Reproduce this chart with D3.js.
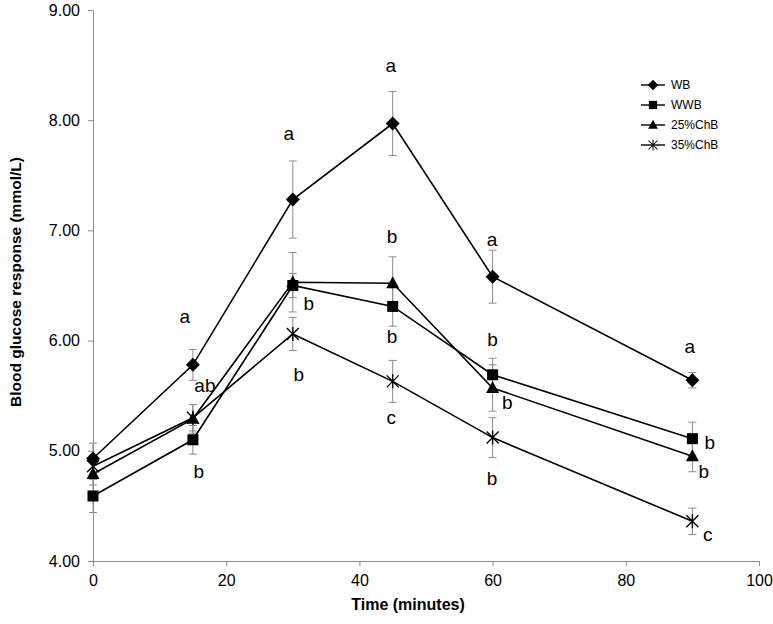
<!DOCTYPE html>
<html>
<head>
<meta charset="utf-8">
<script src="https://cdn.jsdelivr.net/npm/d3@7"></script>
<style>
  html, body { margin: 0; padding: 0; background: #fff; }
  svg { display: block; font-family: "Liberation Sans", Arial, sans-serif; }
</style>
</head>
<body>
<svg id="chart" width="773" height="624"></svg>
<script>
// ---- data ----
const times = [0, 15, 30, 45, 60, 90];
const seriesNames = ["WB", "WWB", "25%ChB", "35%ChB"];
const markerTypes = ["diamond", "square", "triangle", "star"];
const wbValues   = [4.93, 5.78, 7.28, 7.97, 6.58, 5.64];
const wbErr      = [0.14, 0.14, 0.35, 0.29, 0.24, 0.07];
const wwbValues  = [4.59, 5.10, 6.50, 6.31, 5.69, 5.11];
const wwbErr     = [0.15, 0.13, 0.11, 0.18, 0.15, 0.15];
const chb25Values = [4.79, 5.29, 6.53, 6.52, 5.57, 4.95];
const chb25Err    = [0.10, 0.13, 0.27, 0.24, 0.21, 0.14];
const chb35Values = [4.86, 5.30, 6.06, 5.63, 5.12, 4.36];
const chb35Err    = [0.10, 0.12, 0.15, 0.19, 0.18, 0.12];
const xTicks = [0, 20, 40, 60, 80, 100];
const yTicks = [4, 5, 6, 7, 8, 9];
// significance letters: time, value position, letter
const letterTimes  = [13.8, 16.8, 15.9, 29.4, 32.4, 30.9, 44.7, 44.9, 44.9, 44.8, 59.9, 60.0, 62.2, 59.9, 89.6, 92.6, 91.7, 92.3];
const letterValues = [6.22, 5.59, 4.81, 7.88, 6.34, 5.69, 8.50, 6.95, 6.04, 5.30, 6.92, 6.01, 5.44, 4.75, 5.95, 5.08, 4.81, 4.24];
const letterTexts  = ["a", "ab", "b", "a", "b", "b", "a", "b", "b", "c", "a", "b", "b", "b", "a", "b", "b", "c"];

const series = [
  { name: seriesNames[0], marker: markerTypes[0], values: wbValues, err: wbErr },
  { name: seriesNames[1], marker: markerTypes[1], values: wwbValues, err: wwbErr },
  { name: seriesNames[2], marker: markerTypes[2], values: chb25Values, err: chb25Err },
  { name: seriesNames[3], marker: markerTypes[3], values: chb35Values, err: chb35Err }
];

// ---- layout ----
const svg = d3.select("#chart");
const mLeft = 93, mRight = 759, mTop = 10, mBottom = 561;
const x = d3.scaleLinear().domain([0, 100]).range([mLeft, mRight]);
const y = d3.scaleLinear().domain([4, 9]).range([mBottom, mTop]);
const axisColor = "#8c8c8c";

// axes
const xAxis = svg.append("g").attr("transform", `translate(0,${mBottom})`)
  .call(d3.axisBottom(x).tickValues(xTicks).tickSize(5).tickPadding(6).tickFormat(d3.format("d")));
const yAxis = svg.append("g").attr("transform", `translate(${mLeft},0)`)
  .call(d3.axisLeft(y).tickValues(yTicks).tickSize(5).tickPadding(8).tickFormat(d3.format(".2f")));
[xAxis, yAxis].forEach(g => {
  g.selectAll("path.domain").attr("stroke", axisColor).attr("stroke-width", 1);
  g.selectAll(".tick line").attr("stroke", axisColor);
  g.selectAll(".tick text").attr("fill", "#000").style("font-size", "16px")
    .style("font-family", "'Liberation Sans', Arial, sans-serif");
});
xAxis.selectAll(".tick text").attr("dy", "0.9em");

// axis titles
svg.append("text").attr("x", 408).attr("y", 610)
  .attr("text-anchor", "middle").style("font-size", "16px").style("font-weight", "bold")
  .text("Time (minutes)");
svg.append("text").attr("transform", `translate(21,282) rotate(-90)`)
  .attr("text-anchor", "middle").style("font-size", "15.5px").style("font-weight", "bold")
  .text("Blood glucose response (mmol/L)");

// error bars
series.forEach(s => {
  const g = svg.append("g").attr("stroke", axisColor).attr("stroke-width", 1);
  times.forEach((t, i) => {
    const cx = x(t), y1 = y(s.values[i] + s.err[i]), y2 = y(s.values[i] - s.err[i]);
    g.append("line").attr("x1", cx).attr("x2", cx).attr("y1", y1).attr("y2", y2);
    g.append("line").attr("x1", cx - 4).attr("x2", cx + 4).attr("y1", y1).attr("y2", y1);
    g.append("line").attr("x1", cx - 4).attr("x2", cx + 4).attr("y1", y2).attr("y2", y2);
  });
});

// lines
const line = d3.line().x((d, i) => x(times[i])).y(d => y(d));
series.forEach(s => {
  svg.append("path").datum(s.values).attr("d", line)
    .attr("fill", "none").attr("stroke", "#000").attr("stroke-width", 1.6);
});

// markers
function drawMarker(g, type, cx, cy) {
  if (type === "diamond") {
    g.append("path").attr("d", `M${cx},${cy - 7}L${cx + 7},${cy}L${cx},${cy + 7}L${cx - 7},${cy}Z`).attr("fill", "#000");
  } else if (type === "square") {
    g.append("rect").attr("x", cx - 5.5).attr("y", cy - 5.5).attr("width", 11).attr("height", 11).attr("fill", "#000");
  } else if (type === "triangle") {
    g.append("path").attr("d", `M${cx},${cy - 7}L${cx + 6.5},${cy + 5}L${cx - 6.5},${cy + 5}Z`).attr("fill", "#000");
  } else {
    g.append("path").attr("d", `M${cx - 6},${cy - 6}L${cx + 6},${cy + 6}M${cx + 6},${cy - 6}L${cx - 6},${cy + 6}M${cx},${cy - 7}L${cx},${cy + 7}`)
      .attr("stroke", "#000").attr("stroke-width", 1.4).attr("fill", "none");
  }
}
series.forEach(s => {
  const g = svg.append("g");
  times.forEach((t, i) => drawMarker(g, s.marker, x(t), y(s.values[i])));
});

// significance letters
svg.append("g").selectAll("text").data(letterTexts).join("text")
  .attr("x", (d, i) => x(letterTimes[i]))
  .attr("y", (d, i) => y(letterValues[i]))
  .attr("dy", "0.35em")
  .attr("text-anchor", "middle")
  .style("font-size", "19px")
  .text(d => d);

// legend
const legend = svg.append("g");
const lgX = 653, lgY = 85, lgStep = 20;
series.forEach((s, i) => {
  const ly = lgY + i * lgStep;
  legend.append("line").attr("x1", lgX - 12).attr("x2", lgX + 12).attr("y1", ly).attr("y2", ly)
    .attr("stroke", "#000").attr("stroke-width", 1.4);
  const mg = legend.append("g").attr("transform", `translate(${lgX},${ly}) scale(0.75) translate(${-lgX},${-ly})`);
  drawMarker(mg, s.marker, lgX, ly);
  legend.append("text").attr("x", lgX + 18).attr("y", ly).attr("dy", "0.35em")
    .style("font-size", "12px").text(s.name);
});
</script>
</body>
</html>
